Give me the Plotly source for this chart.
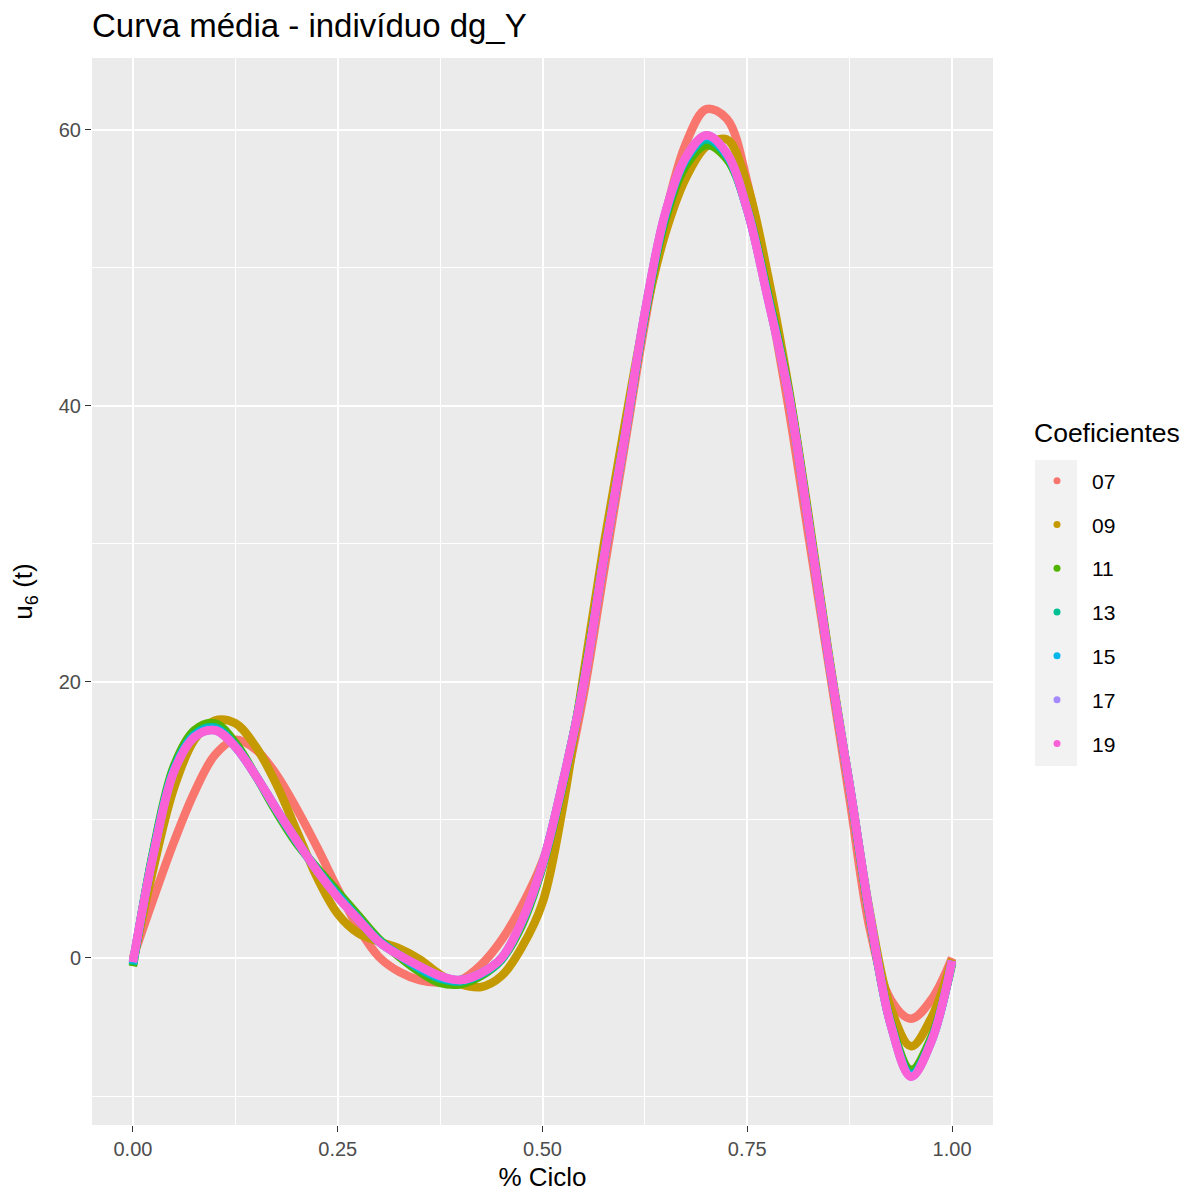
import plotly.graph_objects as go

# ---- data ----
x_grid = [0.000, 0.025, 0.050, 0.075, 0.100, 0.125, 0.150, 0.175, 0.200, 0.225,
          0.250, 0.275, 0.300, 0.325, 0.350, 0.375, 0.400, 0.425, 0.450, 0.475,
          0.500, 0.525, 0.550, 0.575, 0.600, 0.625, 0.650, 0.675, 0.700, 0.725,
          0.750, 0.775, 0.800, 0.825, 0.850, 0.875, 0.900, 0.925, 0.950, 0.975,
          1.000]

coef_labels = ["07", "09", "11", "13", "15", "17", "19"]

u07 = [0.0, 4.3, 8.4, 12.0, 14.7, 15.8, 15.1, 13.3, 10.8, 8.0,
       5.0, 2.2, 0.1, -1.0, -1.6, -1.8, -1.6, -0.5, 1.3, 3.8,
       7.0, 12.0, 19.0, 28.0, 37.0, 46.0, 53.8, 59.0, 61.5, 60.8,
       56.2, 48.4, 40.0, 30.5, 21.0, 11.5, 2.0, -3.0, -4.4, -3.0,
       0.0]
u09 = [-0.3, 6.5, 12.3, 15.8, 17.2, 17.0, 15.3, 12.6, 9.2, 5.8,
       3.2, 1.8, 1.2, 0.7, -0.1, -1.2, -1.9, -2.1, -1.3, 0.8,
       4.0, 11.0, 20.5, 30.0, 38.5, 46.5, 52.5, 56.5, 58.8, 59.3,
       56.0, 49.5, 41.5, 32.0, 21.8, 12.5, 3.2, -3.6, -6.4, -4.3,
       -0.1]
u11 = [-0.6, 7.8, 13.9, 16.5, 17.0, 15.6, 13.2, 10.6, 8.3, 6.5,
       4.8, 3.1, 1.4, 0.1, -1.0, -1.8, -1.9, -1.3, -0.1, 2.4,
       6.6, 12.6, 20.0, 29.0, 37.6, 46.5, 53.5, 57.4, 58.9, 57.9,
       54.3, 48.2, 41.3, 31.7, 21.6, 12.4, 2.8, -4.6, -8.1, -5.7,
       -0.4]
u13 = [-0.5, 7.7, 13.7, 16.2, 16.7, 15.4, 13.2, 10.7, 8.4, 6.4,
       4.6, 2.9, 1.3, 0.2, -0.8, -1.5, -1.7, -1.2, -0.1, 2.6,
       6.7, 12.7, 19.9, 29.0, 37.6, 46.6, 53.8, 57.8, 59.3, 58.1,
       54.2, 48.0, 41.1, 31.6, 21.5, 12.5, 2.9, -4.7, -8.4, -5.9,
       -0.3]
u15 = [-0.4, 7.6, 13.6, 16.1, 16.6, 15.3, 13.2, 10.8, 8.5, 6.3,
       4.5, 2.8, 1.2, 0.2, -0.7, -1.4, -1.6, -1.1, 0.0, 2.6,
       6.8, 12.8, 19.8, 29.0, 37.6, 46.7, 53.9, 57.9, 59.5, 58.2,
       54.2, 47.9, 41.0, 31.5, 21.5, 12.5, 3.0, -4.8, -8.5, -6.0,
       -0.2]
u17 = [-0.3, 7.5, 13.5, 16.0, 16.5, 15.3, 13.2, 10.8, 8.5, 6.3,
       4.4, 2.8, 1.2, 0.2, -0.6, -1.3, -1.6, -1.1, 0.0, 2.7,
       6.8, 12.8, 19.8, 29.0, 37.6, 46.8, 54.0, 58.0, 59.6, 58.3,
       54.2, 47.8, 41.0, 31.5, 21.5, 12.5, 3.0, -4.8, -8.6, -6.0,
       -0.2]
u19 = [-0.3, 7.5, 13.5, 16.0, 16.5, 15.3, 13.2, 10.8, 8.5, 6.3,
       4.4, 2.8, 1.2, 0.2, -0.6, -1.3, -1.6, -1.1, 0.0, 2.7,
       6.8, 12.8, 19.8, 29.0, 37.6, 46.8, 54.0, 58.0, 59.6, 58.3,
       54.2, 47.8, 41.0, 31.5, 21.5, 12.5, 3.0, -4.8, -8.6, -6.0,
       -0.2]

series = [u07, u09, u11, u13, u15, u17, u19]
colors = ["#F8766D", "#C49A00", "#53B400", "#00C094", "#00B6EB", "#A58AFF", "#FB61D7"]

x_ticks = [0.0, 0.25, 0.5, 0.75, 1.0]
x_ticklabels = ["0.00", "0.25", "0.50", "0.75", "1.00"]
y_ticks = [0, 20, 40, 60]
y_ticklabels = ["0", "20", "40", "60"]

FONT = "Liberation Sans, Arial, Helvetica, sans-serif"

fig = go.Figure()
for lab, ys, col in zip(coef_labels, series, colors):
    fig.add_trace(go.Scatter(
        x=x_grid, y=ys, mode="lines", line=dict(color=col, width=8.5, shape="spline", smoothing=1.0),
        name=lab, legendgroup=lab, showlegend=False, hoverinfo="x+y+name"))
for lab, col in zip(coef_labels, colors):
    fig.add_trace(go.Scatter(
        x=[None], y=[None], mode="markers", marker=dict(color=col, size=7),
        name=lab, legendgroup=lab, showlegend=True))

# geometry of the panel in pixels
W, H = 1188, 1193
L, R, T, B = 92, 993, 58, 1125
def px_x(p):
    return (p - L) / (R - L)
def px_y(p):
    return (B - p) / (B - T)

fig.add_shape(type="rect", xref="paper", yref="paper",
              x0=px_x(1035), x1=px_x(1077), y0=px_y(766), y1=px_y(460),
              fillcolor="#F2F2F2", line=dict(width=0), layer="below")

fig.add_annotation(text="Coeficientes", xref="paper", yref="paper",
                   x=px_x(1032), y=px_y(433), xanchor="left", yanchor="middle",
                   showarrow=False, font=dict(size=26.5, color="black", family=FONT))

fig.update_layout(
    width=W, height=H,
    margin=dict(l=L, r=W - R, t=T, b=H - B, pad=0, autoexpand=False),
    paper_bgcolor="white", plot_bgcolor="#EBEBEB",
    font=dict(family=FONT, color="black"),
    title=dict(text="Curva média - indivíduo dg_Y", x=px_x(92), xref="paper", xanchor="left",
               y=1 - 25 / H, yref="container", yanchor="middle",
               font=dict(size=33, color="black", family=FONT)),
    showlegend=True,
    legend=dict(
        font=dict(size=21, color="black", family=FONT),
        x=px_x(1022), xanchor="left", y=px_y(460.5), yanchor="top",
        bgcolor="rgba(0,0,0,0)", tracegroupgap=13.5, traceorder="grouped",
        itemwidth=60),
    xaxis=dict(
        range=[-0.05, 1.05], tickvals=x_ticks, ticktext=x_ticklabels,
        showgrid=True, gridcolor="white", gridwidth=2, zeroline=False,
        ticks="outside", ticklen=6, tickwidth=1.2, tickcolor="#333333",
        tickfont=dict(size=20, color="#4D4D4D", family=FONT),
        minor=dict(tickvals=[0.125, 0.375, 0.625, 0.875], showgrid=True, gridcolor="white", gridwidth=1, ticks=""),
        title=dict(text="% Ciclo", font=dict(size=26, color="black", family=FONT), standoff=8),
        automargin=False, showline=False),
    yaxis=dict(
        range=[-12.1, 65.2], tickvals=y_ticks, ticktext=y_ticklabels,
        showgrid=True, gridcolor="white", gridwidth=2, zeroline=False,
        ticks="outside", ticklen=6, tickwidth=1.2, tickcolor="#333333",
        tickfont=dict(size=20, color="#4D4D4D", family=FONT),
        minor=dict(tickvals=[-10, 10, 30, 50], showgrid=True, gridcolor="white", gridwidth=1, ticks=""),
        title=dict(text="u<sub>6</sub> (t)", font=dict(size=26, color="black", family=FONT), standoff=18),
        automargin=False, showline=False),
)

fig.write_html("out.html")
